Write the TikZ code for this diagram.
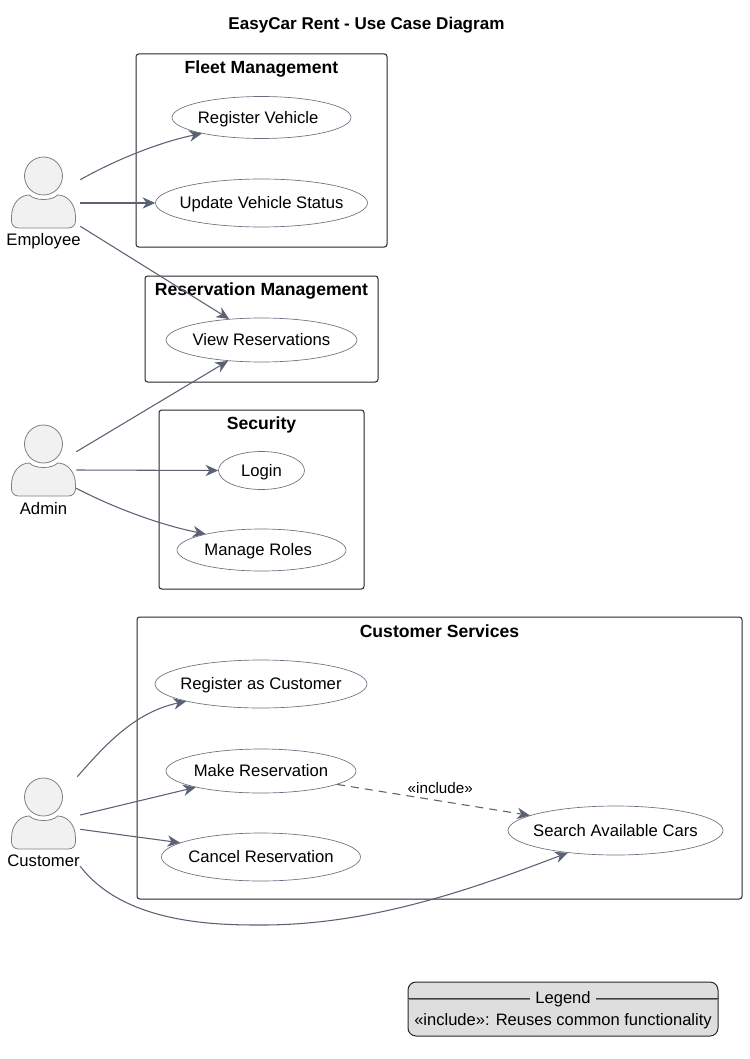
\documentclass[tikz,border=0pt]{standalone}
\usepackage{fontspec}
\setmainfont{Liberation Sans}
\usetikzlibrary{arrows.meta,shapes.geometric,calc}

\definecolor{edgecol}{HTML}{596173}
\definecolor{ovalcol}{HTML}{6B7080}
\definecolor{actorcol}{HTML}{7F7F7F}
\definecolor{actorfill}{HTML}{F1F1F1}

\tikzset{
  usecase/.style 2 args={ellipse,draw=ovalcol,line width=0.5pt,inner sep=0pt,minimum width=#1*0.75pt,minimum height=#2*0.75pt,font=\fontsize{12.5}{14}\selectfont},
  groupbox/.style 2 args={draw=black!85,line width=0.75pt,rounded corners=2pt,minimum width=#1*0.75pt,minimum height=#2*0.75pt,inner sep=0pt},
  grouptitle/.style={anchor=center,inner sep=0pt,font=\fontsize{13.2}{15}\selectfont\bfseries},
  actorbox/.style 2 args={inner sep=0pt,minimum width=#1*0.75pt,minimum height=#2*0.75pt},
  actorname/.style={inner sep=0pt,font=\fontsize{12.5}{14}\selectfont},
  flow/.style={draw=edgecol,line width=0.8pt,-{Stealth[length=9.5pt,width=8.5pt,inset=3pt]}},
  dashflow/.style={flow,dash pattern=on 6pt off 4.5pt}
}

\newcommand{\ovaltext}[1]{\raisebox{-4.2pt}[0pt][0pt]{\makebox[0pt]{#1}}}

\newcommand{\drawactor}[2]{
  \begin{scope}[shift={(#1,#2)}]
    \fill[actorfill,draw=actorcol,line width=0.6pt] (0,0) circle (19*0.75pt);
    \fill[actorfill,draw=actorcol,line width=0.6pt] (-32,41) .. controls (-32,28) and (-24,19) .. (-14,19) .. controls (-9,25) and (9,25) .. (14,19) .. controls (24,19) and (32,28) .. (32,41) -- (32,45) .. controls (32,49) and (29,52) .. (25,52) -- (-25,52) .. controls (-29,52) and (-32,49) .. (-32,45) -- cycle;
  \end{scope}
}

\begin{document}
\begin{tikzpicture}[x=0.75pt,y=-0.75pt]
\useasboundingbox (0,0) rectangle (749,1059);

\node[inner sep=0pt,font=\fontsize{12.8}{15}\selectfont\bfseries] (title) at (366.5,25) {EasyCar Rent - Use Case Diagram};

\node[groupbox={251}{193}] (fleet) at (261.5,150.5) {};
\node[groupbox={233}{106}] (reservation) at (261.5,329) {};
\node[groupbox={205}{179}] (security) at (261.5,499.5) {};
\node[groupbox={605}{282}] (services) at (439.5,758) {};

\node[grouptitle] (fleettitle) at (261.5,69) {Fleet Management};
\node[grouptitle] (reservationtitle) at (261.5,291) {Reservation Management};
\node[grouptitle] (securitytitle) at (261.5,425) {Security};
\node[grouptitle] (servicestitle) at (439.5,631) {Customer Services};

\node[usecase={179}{42}] (registervehicle) at (261.5,117.5) {\ovaltext{Register Vehicle\hspace{5pt}}};
\node[usecase={212}{48}] (updatestatus) at (261.5,203) {\ovaltext{Update Vehicle Status}};
\node[usecase={191}{44}] (viewreservations) at (261.5,340) {\ovaltext{View Reservations}};
\node[usecase={86}{38}] (login) at (261.5,470.5) {\ovaltext{Login}};
\node[usecase={169}{42}] (manageroles) at (261.5,550) {\ovaltext{Manage Roles\hspace{5pt}}};
\node[usecase={212}{48}] (registercustomer) at (261,684) {\ovaltext{Register as Customer}};
\node[usecase={190}{44}] (makereservation) at (261,771) {\ovaltext{Make Reservation}};
\node[usecase={199}{48}] (cancelreservation) at (261,857) {\ovaltext{Cancel Reservation}};
\node[usecase={215}{49}] (searchcars) at (615.5,830.5) {\ovaltext{Search Available Cars}};

\drawactor{43.5}{176}
\drawactor{43.5}{444}
\drawactor{43.5}{797}

\node[actorbox={73}{46}] (employee) at (43.5,203) {};
\node[actorbox={65}{36}] (admin) at (43.5,470) {};
\node[actorbox={73}{89}] (customer) at (43.5,821.5) {};
\node[actorname] (employeename) at (43.5,241) {Employee};
\node[actorname] (adminname) at (43.5,509) {Admin};
\node[actorname] (customername) at (43.5,861) {Customer};

\draw[flow] (employee.north east) .. controls (115,160) and (160,142) .. (registervehicle.195.6);
\draw[flow] (employee.east) -- (updatestatus.west);
\draw[flow] (employee.south east) -- (viewreservations.147.5);

\draw[flow] (admin.north east) -- (viewreservations.212.5);
\draw[flow] (admin.east) -- (login.west);
\draw[flow] (admin.south east) .. controls (112,507) and (160,525) .. (manageroles.164.6);

\draw[flow] ($(customer.north east)+(-3,0)$) .. controls (105,745) and (135,712) .. (registercustomer.193);
\draw[flow] (customer.10) -- (makereservation.194);
\draw[flow] (customer.-12) -- (cancelreservation.170.6);
\draw[flow] (customer.south east) .. controls (125,925) and (220,925) .. (262,925) .. controls (370,925) and (470,890) .. (searchcars.205.3);

\draw[dashflow] (makereservation.-10) -- node[pos=0.535,above=4.8pt,inner sep=0pt,font=\fontsize{11.4}{13}\selectfont] (includelabel) {«include»} (searchcars.170);

\node[draw=black!85,line width=0.75pt,fill=black!13,rounded corners=6pt,minimum width=310*0.75pt,minimum height=54*0.75pt,inner sep=0pt] (legend) at (563,1009) {};
\node[inner sep=0pt,font=\fontsize{12.4}{14}\selectfont] (legendtitle) at (563,999) {Legend};
\node[inner sep=0pt,font=\fontsize{12.4}{14}\selectfont] (legendtext) at (563,1021) {«include»: Reuses common functionality};
\draw[draw=black!75,double=black!50,double distance=0.6pt,line width=0.75pt] (legend.west |- legendtitle) -- ($(legendtitle.west)+(-5,0)$);
\draw[draw=black!75,double=black!50,double distance=0.6pt,line width=0.75pt] (legend.east |- legendtitle) -- ($(legendtitle.east)+(5,0)$);

\end{tikzpicture}
\end{document}
